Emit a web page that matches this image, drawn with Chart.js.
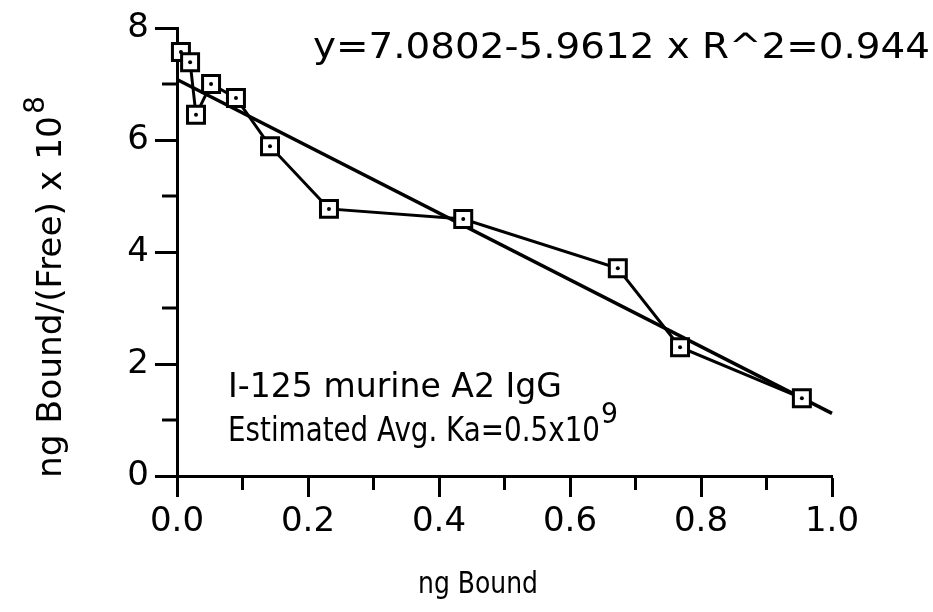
<!DOCTYPE html>
<html>
<head>
<meta charset="utf-8">
<script src="https://cdn.jsdelivr.net/npm/chart.js@4/dist/chart.umd.min.js"></script>
<style>
  html, body { margin: 0; padding: 0; background: #fff; }
  #c { display: block; }
</style>
</head>
<body>
<canvas id="c" width="933" height="612"></canvas>
<script>
// Scatchard plot: bound / free ratio against bound antibody
const boundNg       = [0.006, 0.020, 0.029, 0.052, 0.090, 0.142, 0.232, 0.437, 0.673, 0.768, 0.954];
const boundOverFree = [7.57, 7.39, 6.45, 7.00, 6.75, 5.89, 4.77, 4.59, 3.71, 2.30, 1.39];

// Linear fit stated in the equation label
const fitIntercept = 7.0802;
const fitSlope = -5.9612;
const fitRSquared = 0.944;
const fitRange = [0, 1.0];

// Axis ticks
const xTicks = [0, 0.2, 0.4, 0.6, 0.8, 1.0];
const xTickLabels = ['0.0', '0.2', '0.4', '0.6', '0.8', '1.0'];
const xMinorTicks = [0.1, 0.3, 0.5, 0.7, 0.9];
const yTicks = [0, 2, 4, 6, 8];
const yTickLabels = ['0', '2', '4', '6', '8'];
const yMinorTicks = [1, 3, 5, 7];

const equationText = 'y=' + fitIntercept + '-' + fitSlope.toString().replace('-', '') + ' x R^2=' + fitRSquared;

const FONT = '"DejaVu Sans", "Liberation Sans", sans-serif';
const INK = '#000';

const dataPoints = boundNg.map((x, i) => ({ x: x, y: boundOverFree[i] }));
const fitPoints = fitRange.map(x => ({ x: x, y: fitIntercept + fitSlope * x }));

// Draw text squeezed/stretched horizontally to a given width
function fitText(ctx, text, x, y, width, size) {
  ctx.save();
  ctx.font = size + 'px ' + FONT;
  ctx.textBaseline = 'alphabetic';
  ctx.textAlign = 'left';
  const m = ctx.measureText(text).width;
  ctx.translate(x, y);
  ctx.scale(width / m, 1);
  ctx.fillStyle = INK;
  ctx.fillText(text, 0, 0);
  ctx.restore();
}

const decorations = {
  id: 'decorations',
  afterDraw(chart) {
    const ctx = chart.ctx;
    const xs = chart.scales.x, ys = chart.scales.y;
    const area = chart.chartArea;

    // minor tick marks
    ctx.save();
    ctx.strokeStyle = INK;
    ctx.lineWidth = 3;
    ctx.beginPath();
    xMinorTicks.forEach(v => {
      const px = xs.getPixelForValue(v);
      ctx.moveTo(px, area.bottom);
      ctx.lineTo(px, area.bottom + 14);
    });
    yMinorTicks.forEach(v => {
      const py = ys.getPixelForValue(v);
      ctx.moveTo(area.left, py);
      ctx.lineTo(area.left - 15, py);
    });
    ctx.stroke();
    ctx.restore();

    // equation
    fitText(ctx, equationText, 313, 58, 617, 36);

    // sample description
    fitText(ctx, 'I-125 murine A2 IgG', 228, 397, 334, 33);
    fitText(ctx, 'Estimated Avg. Ka=0.5x10', 228, 441, 372, 33);
    fitText(ctx, '9', 601, 423, 17, 28);

    // x axis title
    fitText(ctx, 'ng Bound', 418, 593, 120, 31);

    // y axis title, rotated
    ctx.save();
    ctx.translate(61, 478);
    ctx.rotate(-Math.PI / 2);
    fitText(ctx, 'ng Bound/(Free) x 10', 0, 0, 362, 33);
    fitText(ctx, '8', 364, -17, 18, 28);
    ctx.restore();
  }
};

new Chart(document.getElementById('c'), {
  type: 'scatter',
  data: {
    datasets: [
      {
        label: 'fit',
        data: fitPoints,
        showLine: true,
        borderColor: INK,
        borderWidth: 3.5,
        pointRadius: 0,
        clip: false,
        order: 3
      },
      {
        label: 'ng Bound/(Free)',
        data: dataPoints,
        showLine: true,
        borderColor: INK,
        borderWidth: 3,
        pointStyle: 'rect',
        pointRadius: 12,
        pointBackgroundColor: '#fff',
        pointBorderColor: INK,
        pointBorderWidth: 3,
        clip: false,
        order: 2
      },
      {
        label: 'centres',
        data: dataPoints,
        showLine: false,
        pointStyle: 'circle',
        pointRadius: 2,
        pointBackgroundColor: INK,
        pointBorderWidth: 0,
        clip: false,
        order: 1
      }
    ]
  },
  options: {
    responsive: false,
    animation: false,
    events: [],
    devicePixelRatio: 1,
    layout: { padding: { top: 28, right: 101, left: 0, bottom: 0 } },
    plugins: { legend: { display: false }, tooltip: { enabled: false } },
    scales: {
      x: {
        type: 'linear',
        min: 0,
        max: 1.0,
        afterBuildTicks: s => { s.ticks = xTicks.map(v => ({ value: v })); },
        afterFit: s => { s.height = 136; },
        ticks: {
          callback: (v, i) => xTickLabels[i],
          font: { family: FONT, size: 34 },
          color: INK,
          padding: 5,
          maxRotation: 0,
          autoSkip: false
        },
        grid: { drawOnChartArea: false, drawTicks: true, tickLength: 21, tickWidth: 3, tickColor: INK },
        border: { display: true, color: INK, width: 3 }
      },
      y: {
        type: 'linear',
        min: 0,
        max: 8,
        afterBuildTicks: s => { s.ticks = yTicks.map(v => ({ value: v })); },
        afterFit: s => { s.width = 177; },
        ticks: {
          callback: (v, i) => yTickLabels[i],
          font: { family: FONT, size: 34 },
          color: INK,
          padding: 6,
          autoSkip: false
        },
        grid: { drawOnChartArea: false, drawTicks: true, tickLength: 22, tickWidth: 3, tickColor: INK },
        border: { display: true, color: INK, width: 3 }
      }
    }
  },
  plugins: [decorations]
});
</script>
</body>
</html>
